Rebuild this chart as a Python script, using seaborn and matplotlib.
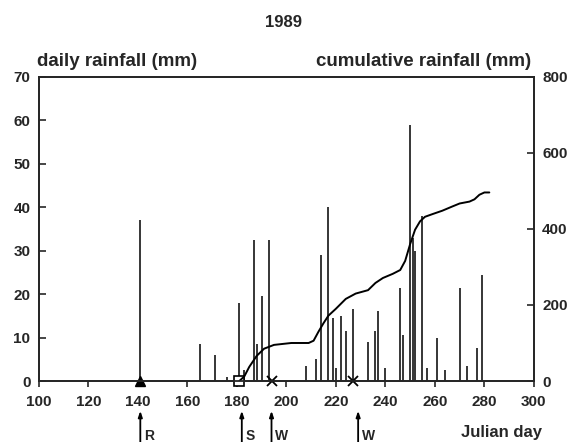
import numpy as np
import pandas as pd
import matplotlib
matplotlib.use("Agg")
import matplotlib.pyplot as plt
import seaborn as sns

# daily rainfall (mm) by Julian day
rain_day = [141, 165, 171, 176, 181, 183, 187, 188, 190, 193, 208, 212, 214,
            217, 219, 220, 222, 224, 227, 233, 236, 237, 240, 246, 247, 250,
            251, 252, 255, 257, 261, 264, 270, 273, 277, 279]
rain_mm = [37, 8.5, 6, 1, 18, 2.5, 32.5, 8.5, 19.5, 32.5, 3.5, 5, 29,
           40, 14.5, 3, 15, 11.5, 16.5, 9, 11.5, 16, 3, 21.5, 10.5, 59,
           33, 30, 38, 3, 10, 2.5, 21.5, 3.5, 7.5, 24.5]

# cumulative rainfall (mm) curve
cum_day = [181, 183, 185, 188, 191, 195, 202, 209, 211, 213, 215, 217, 220,
           224, 228, 233, 236, 239, 243, 246, 248, 250, 252, 254, 256, 259,
           263, 267, 270, 274, 276, 278, 280, 282]
cum_mm = [0, 12, 37, 66, 85, 95, 100, 100, 106, 130, 152, 172, 190,
          216, 230, 239, 258, 271, 282, 292, 316, 360, 398, 420, 432, 439,
          448, 459, 467, 472, 478, 490, 496, 496]

# events on the time axis
mark_day = [141, 181, 194, 227]
mark_style = ["^", "s", "x", "x"]
arrow_day = [141, 182, 194, 229]
arrow_text = ["R", "S", "W", "W"]

sns.set_style("ticks")
plt.rcParams["font.family"] = ["Liberation Sans", "DejaVu Sans"]
plt.rcParams["font.weight"] = "bold"

fig = plt.figure(figsize=(5.71, 4.42), dpi=100)
ax = fig.add_axes([0.068, 0.138, 0.867, 0.688])
ax2 = ax.twinx()

ax.vlines(rain_day, 0, rain_mm, colors="black", linewidth=1.1)

df = pd.DataFrame({"day": cum_day, "cum": cum_mm})
sns.lineplot(data=df, x="day", y="cum", ax=ax2, color="black", linewidth=1.4)

for d, m in zip(mark_day, mark_style):
    if m == "^":
        ax.plot(d, 0, marker=m, color="black", markersize=7, clip_on=False, zorder=5)
    elif m == "s":
        ax.plot(d, 0, marker=m, mfc="white", mec="black", mew=1.2,
                markersize=7, clip_on=False, zorder=5)
    else:
        ax.plot(d, 0, marker=m, color="black", mew=1.3, markersize=7,
                clip_on=False, zorder=5)

ax.set_xlim(100, 300)
ax.set_ylim(0, 70)
ax2.set_ylim(0, 800)
ax.set_xticks(np.arange(100, 301, 20))
ax.set_yticks(np.arange(0, 71, 10))
ax2.set_yticks(np.arange(0, 801, 200))

ax.tick_params(axis="y", direction="in", length=5, width=1.2, labelsize=11, pad=6)
ax.tick_params(axis="x", direction="out", length=4, width=1.2, labelsize=11, pad=6)
ax2.tick_params(axis="y", direction="in", length=5, width=1.2, labelsize=11, pad=6)
for t in ax.get_xticklabels() + ax.get_yticklabels() + ax2.get_yticklabels():
    t.set_fontweight("bold")

for a in (ax, ax2):
    for s in a.spines.values():
        s.set_linewidth(1.3)
        s.set_visible(True)

ax.set_xlabel("")
ax.set_ylabel("")
ax2.set_xlabel("")
ax2.set_ylabel("")

fig.text(0.496, 0.948, "1989", ha="center", va="center", fontsize=12, fontweight="bold")
ax.text(-0.004, 1.022, "daily rainfall (mm)", transform=ax.transAxes, ha="left",
        va="bottom", fontsize=13.5, fontweight="bold")
ax.text(0.995, 1.022, "cumulative rainfall (mm)", transform=ax.transAxes, ha="right",
        va="bottom", fontsize=13.5, fontweight="bold")

trans = ax.get_xaxis_transform()
for d, s in zip(arrow_day, arrow_text):
    ax.annotate("", xy=(d, -0.098), xytext=(d, -0.205), xycoords=trans,
                textcoords=trans, annotation_clip=False,
                arrowprops=dict(arrowstyle="-|>,head_length=0.35,head_width=0.12",
                                color="black", lw=1.3, shrinkA=0, shrinkB=0))
    ax.text(d + 1.6, -0.18, s, transform=trans, ha="left", va="center",
            fontsize=10, fontweight="bold")

ax.text(0.935, -0.17, "Julian day", transform=ax.transAxes, ha="center",
        va="center", fontsize=12, fontweight="bold")

fig.savefig("out.png", dpi=100)
